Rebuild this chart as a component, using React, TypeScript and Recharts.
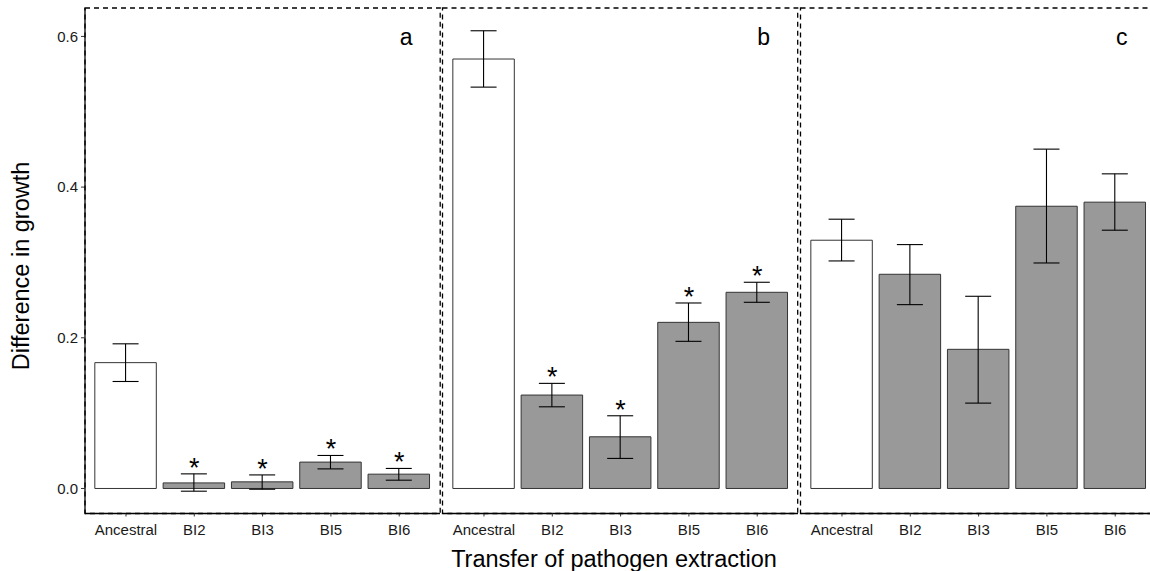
import React from "react";
import { ComposedChart, Bar, Cell, ErrorBar, Scatter, XAxis, YAxis } from "recharts";

// ---------- data ----------
const categories = ["Ancestral", "BI2", "BI3", "BI5", "BI6"];
const panelTags = ["a", "b", "c"];

const meanA = [0.167, 0.0074, 0.0088, 0.035, 0.019];
const lowA = [0.142, -0.0036, -0.001, 0.026, 0.011];
const highA = [0.192, 0.0194, 0.018, 0.0438, 0.0266];
const starA = [false, true, true, true, true];

const meanB = [0.57, 0.124, 0.0686, 0.2205, 0.2604];
const lowB = [0.5327, 0.1084, 0.0399, 0.1953, 0.2471];
const highB = [0.6075, 0.1395, 0.0965, 0.2462, 0.2737];
const starB = [false, true, true, true, true];

const meanC = [0.3295, 0.2843, 0.1847, 0.3746, 0.38];
const lowC = [0.302, 0.244, 0.1133, 0.2993, 0.3428];
const highC = [0.3574, 0.3237, 0.2551, 0.4504, 0.4176];
const starC = [false, false, false, false, false];

const yTicks = [0, 0.2, 0.4, 0.6];
const yDomain: [number, number] = [-0.0332, 0.6377];

const xTitle = "Transfer of pathogen extraction";
const yTitle = "Difference in growth";

// ---------- layout ----------
const W = 1150;
const H = 571;
const FONT = "'Liberation Sans', Arial, Helvetica, sans-serif";
const PLOT_TOP = 8;
const PLOT_BOTTOM = 513.5;
const PANEL_W = 355.2;
const PANEL_LEFTS = [85, 442.5, 800.5];
const UNIT = PANEL_W / 5.2;
const PAD = UNIT * 0.1;
const BAR_W = UNIT * 0.9;
const XAXIS_H = 30;
const Y_AXIS_W = 85;

function buildRows(mean: number[], low: number[], high: number[], star: boolean[]) {
  return categories.map((c, i) => ({
    cat: c,
    mean: mean[i],
    err: [mean[i] - low[i], high[i] - mean[i]],
    star: star[i] ? high[i] : null,
  }));
}

const panels = [
  buildRows(meanA, lowA, highA, starA),
  buildRows(meanB, lowB, highB, starB),
  buildRows(meanC, lowC, highC, starC),
];

const StarShape = (props: any) => {
  const { cx, cy, payload } = props;
  if (!payload || payload.star == null || cx == null || cy == null || isNaN(cy)) return <g />;
  return (
    <text x={cx} y={cy + 3} textAnchor="middle" fontSize={27} fontFamily={FONT} fill="#000">
      *
    </text>
  );
};

function Panel({ rows, left, showY }: { rows: any[]; left: number; showY: boolean }) {
  const yW = showY ? Y_AXIS_W : 0;
  return (
    <div style={{ position: "absolute", left: left - yW, top: 0 }}>
      <ComposedChart
        width={PANEL_W + yW}
        height={H}
        data={rows}
        margin={{ top: PLOT_TOP, right: 0, left: 0, bottom: H - PLOT_BOTTOM - XAXIS_H }}
      >
        <XAxis
          dataKey="cat"
          type="category"
          height={XAXIS_H}
          padding={{ left: PAD, right: PAD }}
          interval={0}
          tickSize={3}
          tickMargin={8}
          axisLine={{ stroke: "#000", strokeWidth: 1.3 }}
          tickLine={{ stroke: "#333", strokeWidth: 1 }}
          tick={{ fill: "#1a1a1a", fontSize: 15, fontFamily: FONT }}
        />
        <YAxis
          hide={!showY}
          width={Y_AXIS_W}
          type="number"
          domain={yDomain}
          allowDataOverflow
          ticks={yTicks}
          tickFormatter={(v: number) => v.toFixed(1)}
          tickSize={4}
          tickMargin={3}
          axisLine={{ stroke: "#000", strokeWidth: 1.3 }}
          tickLine={{ stroke: "#333", strokeWidth: 1 }}
          tick={{ fill: "#1a1a1a", fontSize: 15, fontFamily: FONT }}
        />
        <Bar dataKey="mean" barSize={BAR_W} stroke="#333" strokeWidth={1} isAnimationActive={false}>
          {rows.map((r, i) => (
            <Cell key={i} fill={r.cat === "Ancestral" ? "#ffffff" : "#999999"} />
          ))}
          <ErrorBar dataKey="err" width={13} stroke="#000" strokeWidth={1.1} direction="y" />
        </Bar>
        <Scatter dataKey="star" shape={<StarShape />} isAnimationActive={false} legendType="none" />
      </ComposedChart>
    </div>
  );
}

export default function App() {
  return (
    <div
      style={{
        position: "absolute",
        left: 0,
        top: 0,
        width: W,
        height: H,
        overflow: "hidden",
        background: "#fff",
        fontFamily: FONT,
      }}
    >
      {panels.map((rows, i) => (
        <Panel key={i} rows={rows} left={PANEL_LEFTS[i]} showY={i === 0} />
      ))}
      <svg
        width={W}
        height={H}
        style={{ position: "absolute", left: 0, top: 0, pointerEvents: "none" }}
      >
        {PANEL_LEFTS.map((l, i) => (
          <rect
            key={i}
            x={l}
            y={PLOT_TOP}
            width={PANEL_W}
            height={PLOT_BOTTOM - PLOT_TOP}
            fill="none"
            stroke="#000"
            strokeWidth={1.3}
            strokeDasharray="5 4"
          />
        ))}
        {PANEL_LEFTS.map((l, i) => (
          <text
            key={"t" + i}
            x={l + UNIT * 4.6 + 7}
            y={45}
            textAnchor="middle"
            fontSize={23}
            fontFamily={FONT}
            fill="#000"
          >
            {panelTags[i]}
          </text>
        ))}
        <text x={614} y={567} textAnchor="middle" fontSize={23.5} fontFamily={FONT} fill="#000">
          {xTitle}
        </text>
        <text
          x={29}
          y={266}
          transform="rotate(-90 29 266)"
          textAnchor="middle"
          fontSize={23.5}
          fontFamily={FONT}
          fill="#000"
        >
          {yTitle}
        </text>
      </svg>
    </div>
  );
}
